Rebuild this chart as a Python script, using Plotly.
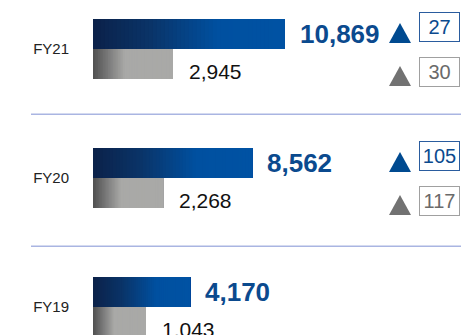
import plotly.graph_objects as go

# Fiscal years, top to bottom
years = ["FY21", "FY20", "FY19"]
# Primary (blue) and secondary (gray) series
blue_values = [10869, 8562, 4170]
gray_values = [2945, 2268, 1043]
# Boxed change counts shown at the right of each year (None = not shown)
blue_changes = [27, 105, None]
gray_changes = [30, 117, None]

FONT = "Liberation Sans, Arial, Helvetica, sans-serif"
BLUE_TEXT = "#0b4a8e"
BLUE_MARK = "#004a90"
GRAY_MARK = "#727272"
GRAY_TEXT = "#6a6a6a"
GRAY_BOX = "#a0a0a0"
RULE = "#aab5e2"

W, H = 461, 335
MARGIN_L = 93
PLOT_W = W - MARGIN_L

# Bars grow out of a short stub left of zero
AXIS_START = -2700
AXIS_END = 23330
BAR_W = 0.2326

BLUE_SCALE = [(0.0, "#0b2149"), (0.3, "#0a3468"), (0.65, "#0050a0"), (1.0, "#0052a3")]
GRAY_SCALE = [(0.0, "#505050"), (0.2, "#7c7c7c"), (0.4, "#a9a9a7"), (1.0, "#a9a9a7")]


def hex_rgb(h):
    h = h.lstrip("#")
    return tuple(int(h[i:i + 2], 16) for i in (0, 2, 4))


def sample(scale, t):
    for (t0, c0), (t1, c1) in zip(scale[:-1], scale[1:]):
        if t <= t1:
            f = 0 if t1 == t0 else (t - t0) / (t1 - t0)
            a, b = hex_rgb(c0), hex_rgb(c1)
            return "rgb(%d,%d,%d)" % tuple(round(a[i] + (b[i] - a[i]) * f) for i in range(3))
    return scale[-1][1]


def add_gradient_bars(fig, values, scale, offset, n=48):
    # Layered bars: layer k starts k/n of the way along and runs to the value,
    # so each bar shows a left-to-right colour ramp without seams
    for k in range(n):
        base = [AXIS_START + (v - AXIS_START) * k / n for v in values]
        length = [v - b for v, b in zip(values, base)]
        fig.add_trace(go.Bar(
            y=years, x=length, base=base, orientation="h",
            width=BAR_W, offset=offset,
            marker=dict(color=sample(scale, (k + 0.5) / n), line=dict(width=0)),
            hoverinfo="skip", showlegend=False,
        ))


def px_to_paper_x(px):
    return (px - MARGIN_L) / PLOT_W


fig = go.Figure()
add_gradient_bars(fig, blue_values, BLUE_SCALE, 0.0)
add_gradient_bars(fig, gray_values, GRAY_SCALE, -BAR_W)

annotations = []
shapes = []

for i, yr in enumerate(years):
    annotations.append(dict(
        x=blue_values[i], y=yr, xref="x", yref="y", xanchor="left", yanchor="middle",
        xshift=13, yshift=15, showarrow=False, text="<b>{:,}</b>".format(blue_values[i]),
        font=dict(family=FONT, size=26, color=BLUE_TEXT),
    ))
    annotations.append(dict(
        x=gray_values[i], y=yr, xref="x", yref="y", xanchor="left", yanchor="middle",
        xshift=14, yshift=-22, showarrow=False, text="{:,}".format(gray_values[i]),
        font=dict(family=FONT, size=21, color="#111111"),
    ))

    idx = len(years) - 1 - i  # category index on the y axis
    for change, mark, txt, box, dy, tri in (
        (blue_changes[i], BLUE_MARK, BLUE_TEXT, "#2a5c9e", 22.5, (6, 26)),
        (gray_changes[i], GRAY_MARK, GRAY_TEXT, GRAY_BOX, -22.5, (-37, -17)),
    ):
        if change is None:
            continue
        annotations.append(dict(
            x=px_to_paper_x(439.5), y=yr, xref="paper", yref="y",
            xanchor="center", yanchor="middle", yshift=dy, showarrow=False,
            text=str(change), width=39, height=28, borderpad=0, borderwidth=1,
            bordercolor=box, align="center",
            font=dict(family=FONT, size=20, color=txt),
        ))
        b, t = tri
        shapes.append(dict(
            type="path", xref="paper", yref="y",
            xsizemode="pixel", ysizemode="pixel",
            xanchor=px_to_paper_x(400), yanchor=idx,
            path="M -11 %g L 11 %g L 0 %g Z" % (b, b, t),
            fillcolor=mark, line=dict(width=0),
        ))

# Rules between the years
for yv in (0.47, 1.495):
    shapes.append(dict(
        type="line", xref="paper", yref="y", x0=px_to_paper_x(31), x1=1, y0=yv, y1=yv,
        line=dict(color=RULE, width=1.5),
    ))

fig.update_layout(
    width=W, height=H,
    margin=dict(l=MARGIN_L, r=0, t=0, b=0),
    barmode="overlay",
    plot_bgcolor="white", paper_bgcolor="white",
    font=dict(family=FONT),
    annotations=annotations,
    shapes=shapes,
    xaxis=dict(range=[AXIS_START, AXIS_END], visible=False, fixedrange=True),
    yaxis=dict(
        type="category", categoryorder="array", categoryarray=years[::-1],
        range=[-0.217, 2.3798], showgrid=False, zeroline=False, showline=False,
        ticks="", ticklabelstandoff=23,
        tickfont=dict(family=FONT, size=15, color="#222222"),
        fixedrange=True,
    ),
)

fig.write_html("out.html")
